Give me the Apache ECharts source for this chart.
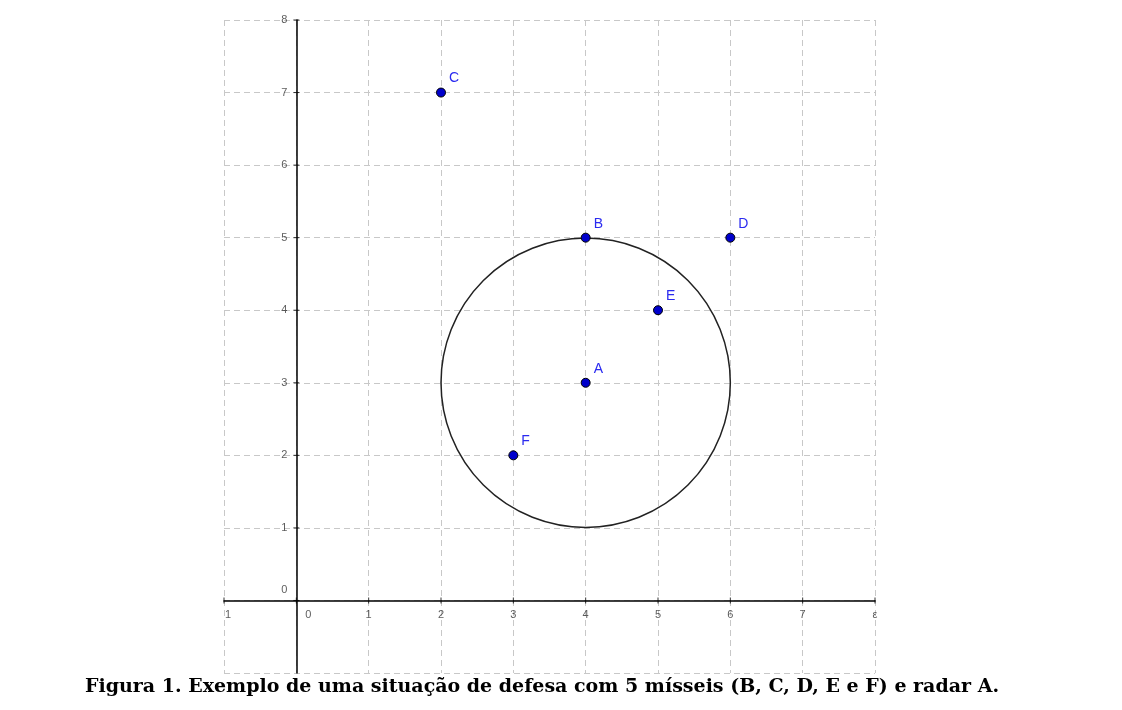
<!DOCTYPE html>
<html><head><meta charset="utf-8">
<script src="https://cdn.jsdelivr.net/npm/echarts@6/dist/echarts.min.js"></script>
<style>html,body{margin:0;background:#fff}#c{width:1122px;height:710px}</style>
</head><body><div id="c"></div>
<script>
const pointNames = ['A','B','C','D','E','F'];
const pointX = [4,4,2,6,5,3];
const pointY = [3,5,7,5,4,2];
const circleCenter = [4,3];
const circleRadius = 2;
const xTicks = [-1,0,1,2,3,4,5,6,7,8];
const xTickLabels = ['1','0','1','2','3','4','5','6','7','ε'];
const yTicks = [0,1,2,3,4,5,6,7,8];
const yTickLabels = ['0','1','2','3','4','5','6','7','8'];
const caption = 'Figura 1. Exemplo de uma situação de defesa com 5 mísseis (B, C, D, E e F) e radar A.';

const chart = echarts.init(document.getElementById('c'));
const grid = {color:'#c8c8c8', type:[6,4], width:1};
const lblStyle = {color:'#333', fontSize:11, fontFamily:'Liberation Sans'};
chart.setOption({
  animation:false,
  grid:{left:224, right:247, top:20, bottom:37},
  title:{text:caption, left:80, top:673, textStyle:{fontFamily:'DejaVu Serif', fontSize:19, fontWeight:'bold', color:'#000'}},
  xAxis:{type:'value', min:-1, max:8, interval:1,
    axisLine:{onZero:true, lineStyle:{color:'#000', width:1.5}},
    axisTick:{show:false}, axisLabel:{show:false},
    splitLine:{show:true, lineStyle:grid}},
  yAxis:{type:'value', min:-1, max:8, interval:1,
    axisLine:{onZero:true, lineStyle:{color:'#000', width:1.5}},
    axisTick:{show:false}, axisLabel:{show:false},
    splitLine:{show:true, lineStyle:grid}},
  series:[
    {type:'custom', data:[[circleCenter[0], circleCenter[1], circleRadius]], z:3,
     renderItem:(params, api)=>{
       const c = api.coord([api.value(0), api.value(1)]);
       const r = api.size([api.value(2), 0])[0];
       return {type:'circle', shape:{cx:c[0], cy:c[1], r:r}, style:{fill:'none', stroke:'#222', lineWidth:1.5}};
     }},
    {type:'scatter', z:4, symbol:'rect', symbolSize:[1,6], silent:true,
     itemStyle:{color:'#000'},
     data:xTicks.map((v,i)=>({value:[v,0], label:{show:true, formatter:xTickLabels[i], position:'bottom', distance:6, offset:[v===0?12:(v===-1?4:0),0], ...lblStyle}}))},
    {type:'scatter', z:4, symbol:'rect', symbolSize:[6,1], silent:true,
     itemStyle:{color:'#000'},
     data:yTicks.map((v,i)=>({value:[0,v], label:{show:true, formatter:yTickLabels[i], position:'left', distance:6, offset:[0,v===0?-10:0], ...lblStyle}}))},
    {type:'scatter', z:5, symbolSize:9,
     data:pointNames.map((n,i)=>({name:n, value:[pointX[i], pointY[i]]})),
     itemStyle:{color:'#0000cc', borderColor:'#000', borderWidth:1, opacity:1},
     label:{show:true, formatter:p=>p.name, position:'right', offset:[-2,-14], color:'#2a2af0', fontSize:14, fontFamily:'Liberation Sans'}}
  ]
});
</script></body></html>
